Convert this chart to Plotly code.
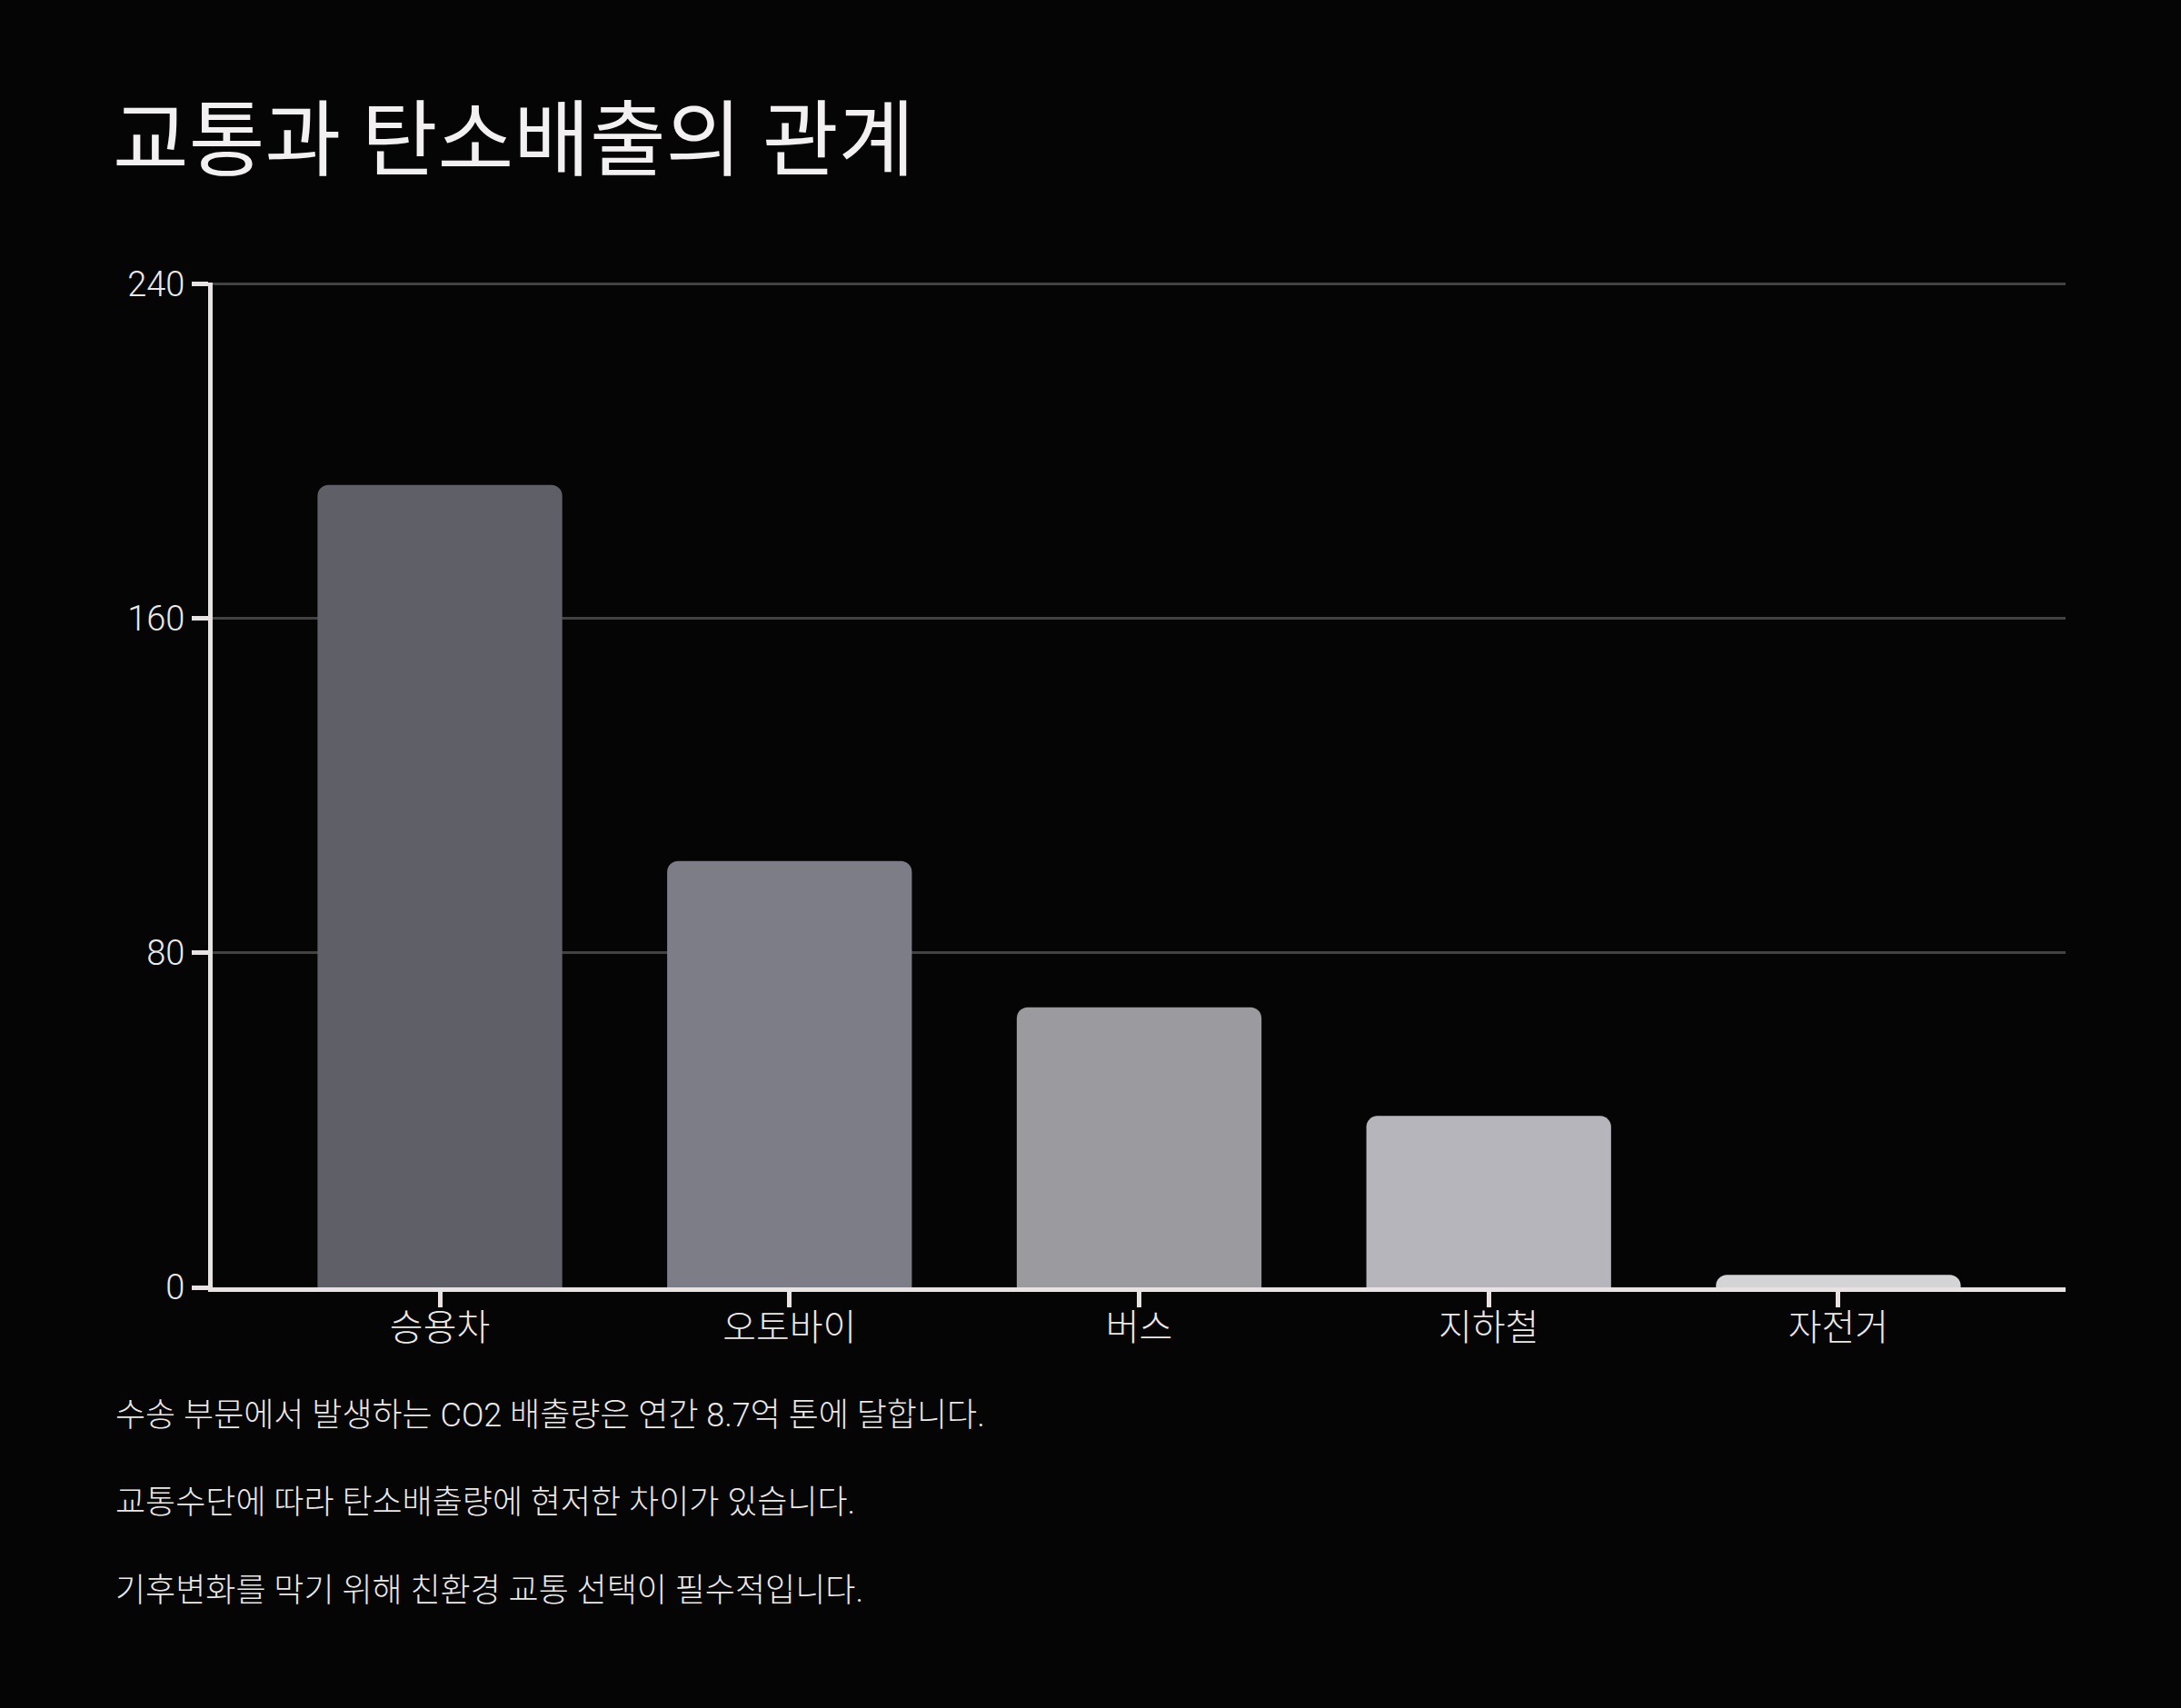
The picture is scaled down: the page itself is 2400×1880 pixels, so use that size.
import plotly.graph_objects as go

# data
categories = ["승용차", "오토바이", "버스", "지하철", "자전거"]
emissions = [192, 102, 67, 41, 3]
bar_colors = ["#5f5f68", "#7d7d88", "#9a9a9f", "#b6b5bb", "#d4d4d6"]
y_ticks = [0, 80, 160, 240]
notes = [
    "수송 부문에서 발생하는 CO2 배출량은 연간 8.7억 톤에 달합니다.",
    "교통수단에 따라 탄소배출량에 현저한 차이가 있습니다.",
    "기후변화를 막기 위해 친환경 교통 선택이 필수적입니다.",
]
title_text = "교통과 탄소배출의 관계"

W, H = 2400, 1880
ML, MR, MT, MB = 234, 127, 311, 463
plot_w = W - ML - MR
plot_h = H - MT - MB

FONT = "Roboto, 'Noto Sans CJK KR', sans-serif"
AXIS_COLOR = "#e8e2e2"
TEXT_COLOR = "#ece8e8"
BG = "#050505"

fig = go.Figure()
fig.add_trace(
    go.Bar(
        x=list(range(len(categories))),
        y=emissions,
        width=0.7,
        marker={"color": bar_colors, "cornerradius": 12, "line": {"width": 0}},
        hoverinfo="skip",
    )
)

# footnote lines below the plot
note_px = [1558, 1654, 1751]
annotations = []
for txt, py in zip(notes, note_px):
    annotations.append(
        dict(
            text=txt,
            xref="paper",
            yref="paper",
            x=(125 - ML) / plot_w,
            y=-(py - (H - MB)) / plot_h,
            xanchor="left",
            yanchor="middle",
            showarrow=False,
            font={"family": FONT, "size": 36, "color": TEXT_COLOR, "weight": 300},
        )
    )

fig.update_layout(
    width=W,
    height=H,
    margin={"l": ML, "r": MR, "t": MT, "b": MB, "pad": 0},
    paper_bgcolor=BG,
    plot_bgcolor=BG,
    showlegend=False,
    title={
        "text": title_text,
        "x": 124 / W,
        "xanchor": "left",
        "xref": "container",
        "y": 1 - 154 / H,
        "yanchor": "middle",
        "yref": "container",
        "font": {"family": FONT, "size": 91, "color": "#f2f0f0"},
    },
    annotations=annotations,
    xaxis={
        "range": [-0.65, len(categories) - 0.35],
        "tickmode": "array",
        "tickvals": list(range(len(categories))),
        "ticktext": categories,
        "showgrid": False,
        "zeroline": False,
        "showline": True,
        "linecolor": AXIS_COLOR,
        "linewidth": 5,
        "ticks": "outside",
        "ticklen": 17,
        "tickwidth": 5,
        "tickcolor": AXIS_COLOR,
        "ticklabelstandoff": -12,
        "tickfont": {"family": FONT, "size": 40, "color": TEXT_COLOR, "weight": 300},
    },
    yaxis={
        "range": [0, 240.4],
        "tickmode": "array",
        "tickvals": y_ticks,
        "showgrid": True,
        "gridcolor": "#424242",
        "gridwidth": 2.5,
        "zeroline": False,
        "showline": True,
        "linecolor": AXIS_COLOR,
        "linewidth": 5,
        "ticks": "outside",
        "ticklen": 18,
        "tickwidth": 5,
        "tickcolor": AXIS_COLOR,
        "tickfont": {"family": FONT, "size": 38, "color": TEXT_COLOR, "weight": 300},
    },
)

fig.write_html(
    "out.html",
    config={"displayModeBar": False},
    post_script="document.body.style.margin='0';document.body.style.background='#050505';",
)
